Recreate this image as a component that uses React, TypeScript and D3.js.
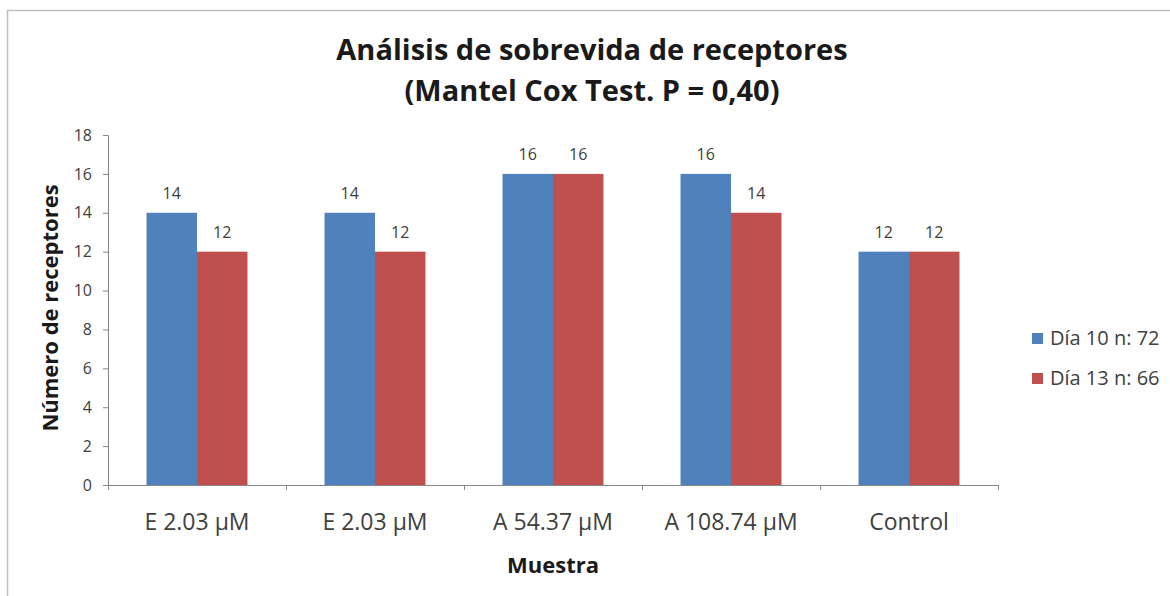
import * as d3 from "d3";
import React, { useEffect, useRef } from "react";

const categories = ["E 2.03 µM", "E 2.03 µM", "A 54.37 µM", "A 108.74 µM", "Control"];
const dia10 = [14, 14, 16, 16, 12];
const dia13 = [12, 12, 16, 14, 12];
const seriesNames = ["Día 10 n: 72", "Día 13 n: 66"];
const seriesColors = ["#4f81bd", "#c0504d"];
const yTicks = [0, 2, 4, 6, 8, 10, 12, 14, 16, 18];
const titleLines = ["Análisis de sobrevida de receptores", "(Mantel Cox Test. P = 0,40)"];

const FONT = "'Open Sans', 'DejaVu Sans', sans-serif";

function App() {
    const svgRef = useRef<SVGSVGElement>(null);

    useEffect(() => {
        const width = 1170;
        const height = 596;
        const svg = d3.select(svgRef.current);
        svg.selectAll("*").remove();

        svg.append("rect").attr("width", width).attr("height", height).attr("fill", "#fff");

        // chart area border (only top and left are visible in the picture)
        svg.append("path")
            .attr("d", `M7.5,${height} V10.5 H${width}`)
            .attr("fill", "none")
            .attr("stroke", "#bfbfbf")
            .attr("stroke-width", 1.5);

        const left = 108;
        const right = 998;
        const top = 135;
        const bottom = 485;

        const yScale = d3.scaleLinear().domain([0, 18]).range([bottom, top]);
        const xScale = d3.scaleBand<number>()
            .domain(categories.map((_, i) => i))
            .range([left, right])
            .paddingInner(0.433)
            .paddingOuter(0.433 / 2);
        const barW = xScale.bandwidth() / 2;

        /*
        title
        */
        svg.append("g")
            .selectAll("text")
            .data(titleLines)
            .enter()
            .append("text")
            .attr("x", 592)
            .attr("y", (_, i) => 60 + i * 41)
            .attr("text-anchor", "middle")
            .style("font-family", FONT)
            .style("font-size", "29px")
            .style("font-weight", "bold")
            .attr("fill", "#1a1a1a")
            .text(d => d);

        /*
        bars
        */
        const series = [dia10, dia13];
        series.forEach((values, s) => {
            svg.append("g")
                .selectAll("rect")
                .data(values)
                .enter()
                .append("rect")
                .attr("x", (_, i) => (xScale(i) || 0) + s * barW)
                .attr("y", d => yScale(d))
                .attr("width", barW)
                .attr("height", d => bottom - yScale(d))
                .attr("fill", seriesColors[s]);

            svg.append("g")
                .selectAll("text")
                .data(values)
                .enter()
                .append("text")
                .attr("x", (_, i) => (xScale(i) || 0) + s * barW + barW / 2)
                .attr("y", d => yScale(d) - 14)
                .attr("text-anchor", "middle")
                .style("font-family", FONT)
                .style("font-size", "16px")
                .attr("fill", "#404040")
                .text(d => d);
        });

        /*
        y axis
        */
        const yAxis = d3.axisLeft(yScale).tickValues(yTicks).tickSize(5).tickPadding(11);
        const yG = svg.append("g")
            .attr("transform", `translate(${left},0)`)
            .call(yAxis);
        yG.select(".domain").attr("stroke", "#868686");
        yG.selectAll(".tick line").attr("stroke", "#868686");
        yG.selectAll(".tick text")
            .style("font-family", FONT)
            .style("font-size", "16px")
            .attr("fill", "#404040");

        /*
        x axis
        */
        svg.append("line")
            .attr("x1", left).attr("x2", right)
            .attr("y1", bottom + 0.5).attr("y2", bottom + 0.5)
            .attr("stroke", "#868686");
        const step = xScale.step();
        svg.append("g")
            .selectAll("line")
            .data(d3.range(categories.length + 1))
            .enter()
            .append("line")
            .attr("x1", i => left + i * step + 0.5)
            .attr("x2", i => left + i * step + 0.5)
            .attr("y1", bottom)
            .attr("y2", bottom + 5)
            .attr("stroke", "#868686");
        svg.append("g")
            .selectAll("text")
            .data(categories)
            .enter()
            .append("text")
            .attr("x", (_, i) => (xScale(i) || 0) + xScale.bandwidth() / 2)
            .attr("y", 530)
            .attr("text-anchor", "middle")
            .style("font-family", FONT)
            .style("font-size", "23px")
            .attr("fill", "#404040")
            .text(d => d);

        /*
        axis titles
        */
        svg.append("text")
            .attr("x", (left + right) / 2)
            .attr("y", 573)
            .attr("text-anchor", "middle")
            .style("font-family", FONT)
            .style("font-size", "22px")
            .style("font-weight", "bold")
            .attr("fill", "#1a1a1a")
            .text("Muestra");
        svg.append("text")
            .attr("transform", `translate(58,${(top + bottom) / 2 - 2}) rotate(-90)`)
            .attr("text-anchor", "middle")
            .style("font-family", FONT)
            .style("font-size", "22px")
            .style("font-weight", "bold")
            .attr("fill", "#1a1a1a")
            .text("Número de receptores");

        /*
        legend
        */
        const legend = svg.append("g")
            .selectAll("g")
            .data(seriesNames)
            .enter()
            .append("g")
            .attr("transform", (_, i) => `translate(1032,${338 + i * 40})`);
        legend.append("rect")
            .attr("x", 0).attr("y", -5)
            .attr("width", 11).attr("height", 11)
            .attr("fill", (_, i) => seriesColors[i]);
        legend.append("text")
            .attr("x", 18)
            .attr("y", 0)
            .attr("dy", "0.35em")
            .style("font-family", FONT)
            .style("font-size", "20px")
            .attr("fill", "#404040")
            .text(d => d);
    }, []);

    return (
        <svg ref={svgRef} width={1170} height={596}
            style={{ position: "absolute", left: 0, top: 0, display: "block" }} />
    );
}

export default App;
